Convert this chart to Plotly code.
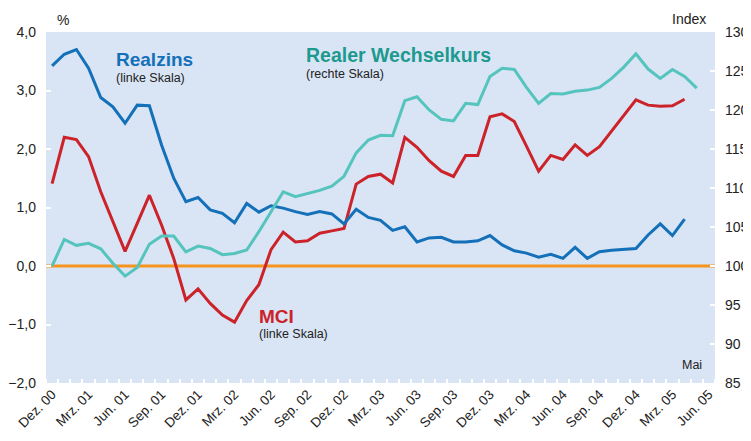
import plotly.graph_objects as go

# X tick labels (Dez. 00 ... Jun. 05), every third month
tick_labels = ["Dez. 00", "Mrz. 01", "Jun. 01", "Sep. 01", "Dez. 01", "Mrz. 02", "Jun. 02",
               "Sep. 02", "Dez. 02", "Mrz. 03", "Jun. 03", "Sep. 03", "Dez. 03", "Mrz. 04",
               "Jun. 04", "Sep. 04", "Dez. 04", "Mrz. 05", "Jun. 05"]
tick_positions = [3 * i for i in range(len(tick_labels))]

# Realzins (left scale, %), Dez. 00 - Apr. 05
realzins = [3.42, 3.62, 3.70, 3.38, 2.88, 2.72, 2.44, 2.75, 2.74, 2.07,
            1.50, 1.10, 1.17, 0.96, 0.90, 0.74, 1.07, 0.92, 1.03, 0.99,
            0.93, 0.88, 0.93, 0.89, 0.72, 0.97, 0.83, 0.78, 0.61, 0.67,
            0.41, 0.48, 0.49, 0.41, 0.41, 0.43, 0.52, 0.36, 0.26, 0.22,
            0.15, 0.20, 0.13, 0.32, 0.13, 0.245, 0.27, 0.29, 0.30, 0.53,
            0.72, 0.52, 0.80]

# MCI (left scale, %), Dez. 00 - Apr. 05
mci = [1.41, 2.20, 2.16, 1.87, 1.27, 0.76, 0.25, 0.73, 1.21, 0.70,
       0.13, -0.58, -0.39, -0.64, -0.84, -0.96, -0.59, -0.32, 0.28, 0.58,
       0.41, 0.43, 0.56, 0.60, 0.64, 1.40, 1.53, 1.57, 1.42, 2.20,
       2.03, 1.80, 1.62, 1.53, 1.89, 1.89, 2.55, 2.60, 2.47, 2.05,
       1.62, 1.89, 1.82, 2.07, 1.89, 2.04, 2.30, 2.56, 2.84, 2.75,
       2.73, 2.74, 2.85]

# Realer Wechselkurs (right scale, Index), Dez. 00 - Mai 05
wechselkurs = [100.0, 103.4, 102.65, 102.9, 102.2, 100.35, 98.7, 99.8, 102.8, 103.85,
               103.85, 101.8, 102.55, 102.25, 101.45, 101.6, 102.05, 104.4, 106.95, 109.5,
               108.9, 109.3, 109.7, 110.25, 111.5, 114.5, 116.15, 116.75, 116.7, 121.2,
               121.7, 120.0, 118.8, 118.6, 120.85, 120.7, 124.3, 125.35, 125.2, 122.9,
               120.85, 122.1, 122.05, 122.4, 122.55, 122.9, 124.05, 125.5, 127.2, 125.25,
               124.05, 125.2, 124.3, 122.8]

FONT = "Liberation Sans, Arial, sans-serif"
BLUE = "#1470b8"
RED = "#cc2229"
TEAL = "#55c4bd"
TEAL_TXT = "#1d9a8f"
ORANGE = "#f7941d"
BG = "#d9e5f5"

fig = go.Figure()
fig.add_trace(go.Scatter(x=list(range(len(wechselkurs))), y=wechselkurs, mode="lines",
                         line=dict(color=TEAL, width=3), yaxis="y2", name="Realer Wechselkurs"))
fig.add_trace(go.Scatter(x=list(range(len(mci))), y=mci, mode="lines",
                         line=dict(color=RED, width=3), name="MCI"))
fig.add_trace(go.Scatter(x=list(range(len(realzins))), y=realzins, mode="lines",
                         line=dict(color=BLUE, width=3), name="Realzins"))

fig.add_shape(type="line", xref="paper", x0=0, x1=1, yref="y", y0=0, y1=0,
              line=dict(color=ORANGE, width=3), layer="below")

ann = []
def t(text, x, y, size, color, bold=False, xanchor="left", xref="x", yref="y"):
    ann.append(dict(text=("<b>%s</b>" % text) if bold else text, x=x, y=y, xref=xref, yref=yref,
                    xanchor=xanchor, yanchor="middle", showarrow=False,
                    font=dict(family=FONT, size=size, color=color)))

t("Realzins", 5.1, 3.53, 19, BLUE, True)
t("(linke Skala)", 5.1, 3.21, 12.5, "#222")
t("Realer Wechselkurs", 20.7, 3.60, 19.5, TEAL_TXT, True)
t("(rechte Skala)", 20.7, 3.28, 12.5, "#222")
t("MCI", 16.85, -0.86, 19, RED, True)
t("(linke Skala)", 16.85, -1.16, 12.5, "#222")
t("Mai", 53.6, -1.69, 12.5, "#222", xanchor="right")
t("%", 0.013, 1.035, 14, "#222", xref="paper", yref="paper")
t("Index", 0.99, 1.037, 14, "#222", xanchor="right", xref="paper", yref="paper")

# page body has an 8px default margin, so the figure is sized 8px smaller
fig.update_layout(
    width=743, height=433,
    margin=dict(l=38, r=36, t=24, b=58, autoexpand=False),
    paper_bgcolor="white", plot_bgcolor=BG,
    separators=", ",
    showlegend=False,
    annotations=ann,
    font=dict(family=FONT, size=14, color="#222"),
    xaxis=dict(range=[-0.5, 54.5], tickmode="array", tickvals=tick_positions, ticktext=tick_labels,
               tickangle=-45, ticks="", showgrid=False, zeroline=False, showline=False,
               automargin=False, tickfont=dict(size=13.5, color="#222"),
               minor=dict(tickmode="linear", tick0=0.5, dtick=1, ticks="inside", ticklen=4,
                          tickwidth=2, tickcolor="white", showgrid=False)),
    yaxis=dict(range=[-2, 4], dtick=1, tickformat=".1f", ticks="inside", ticklen=5, tickwidth=2,
               tickcolor="white", showgrid=False, zeroline=False, showline=False, automargin=False,
               ticklabelstandoff=9, tickfont=dict(size=14, color="#222")),
    yaxis2=dict(range=[85, 130], dtick=5, overlaying="y", side="right", ticks="inside", ticklen=5,
                tickwidth=2, tickcolor="white", showgrid=False, zeroline=False, showline=False,
                automargin=False, ticklabelstandoff=9, tickfont=dict(size=14, color="#222")),
)

fig.write_html("out.html")
